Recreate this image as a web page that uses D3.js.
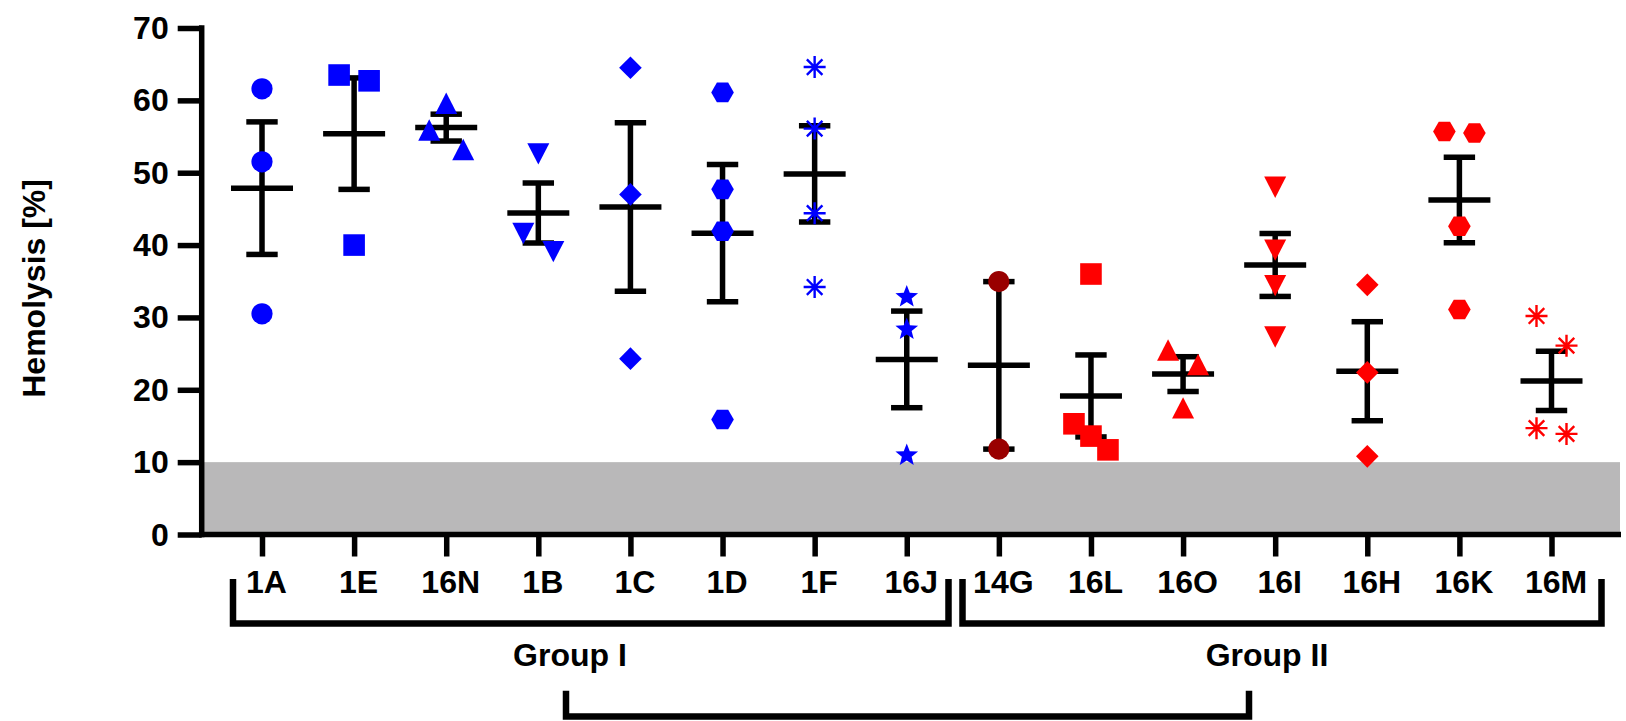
<!DOCTYPE html>
<html><head><meta charset="utf-8">
<script src="https://cdn.jsdelivr.net/npm/d3@7"></script>
<style>
body{margin:0;background:#fff}
svg text{font-family:"Liberation Sans",Arial,Helvetica,sans-serif;font-weight:bold;fill:#000}
</style>
</head><body>
<svg id="chart" width="1626" height="721"></svg>
<script>
// ---------- data ----------
const categories = ["1A","1E","16N","1B","1C","1D","1F","16J","14G","16L","16O","16I","16H","16K","16M"];
const groupNames = ["Group I","Group II"];
const groupOfCategory = [0,0,0,0,0,0,0,0,1,1,1,1,1,1,1];
const hemolysis = [
  [61.6, 51.5, 30.5],
  [63.5, 62.7, 40.0],
  [59.6, 55.9, 53.2],
  [52.6, 41.6, 39.1],
  [64.5, 47.0, 24.3],
  [61.1, 47.7, 41.9, 15.9],
  [64.6, 56.1, 44.4, 34.2],
  [33.0, 28.5, 11.1],
  [34.95, 11.8],
  [36.0, 15.3, 13.6, 11.7],
  [25.5, 23.5, 17.5],
  [48.0, 39.3, 34.4, 27.3],
  [34.5, 22.4, 10.8],
  [55.7, 55.5, 42.6, 31.1],
  [30.2, 26.1, 14.7, 13.9]
];
const yTicks = [0, 10, 20, 30, 40, 50, 60, 70];
const thresholdBand = [0, 10];
const yTitle = "Hemolysis [%]";

// ---------- styles ----------
const shapeCycle = ["circle","square","triangleUp","triangleDown","diamond","hexagon","asterisk","star"];
const groupColor = ["#0000ff", "#ff0000"];
const firstOfGroupIIColor = "#990000";
const FONT = 32;
const LW = 5.5;

// ---------- scales ----------
const svg = d3.select("#chart");
const x = d3.scalePoint().domain(categories).range([262, 1551.5]);
const y = d3.scaleLinear().domain([0, 70]).range([534.5, 28]);
const axisX = 201.7, axisRight = 1621;

// gray threshold band
svg.append("rect")
  .attr("x", axisX).attr("width", 1620 - axisX)
  .attr("y", y(thresholdBand[1])).attr("height", y(thresholdBand[0]) - y(thresholdBand[1]))
  .attr("fill", "#b9b8b9");

// y axis
const gy = svg.append("g").attr("transform", `translate(${axisX},0)`)
  .call(d3.axisLeft(y).tickValues(yTicks).tickSizeInner(24).tickSizeOuter(0).tickPadding(8).tickFormat(d3.format("d")));
gy.select(".domain").remove();
gy.selectAll(".tick line").attr("stroke", "#000").attr("stroke-width", LW);
gy.selectAll(".tick text").attr("font-size", FONT).attr("dy", "0.33em").attr("x", -33);
svg.append("line").attr("x1", axisX).attr("x2", axisX)
  .attr("y1", y(70) - LW / 2).attr("y2", y(0) + LW / 2)
  .attr("stroke", "#000").attr("stroke-width", LW);

// x axis
const gx = svg.append("g").attr("transform", `translate(0,${y(0)})`)
  .call(d3.axisBottom(x).tickSizeInner(22).tickSizeOuter(0));
gx.select(".domain").remove();
gx.selectAll(".tick line").attr("stroke", "#000").attr("stroke-width", LW);
gx.selectAll(".tick text").attr("font-size", FONT).attr("y", 58).attr("dy", 0).attr("dx", 4);
svg.append("line").attr("x1", axisX - LW / 2).attr("x2", axisRight)
  .attr("y1", y(0)).attr("y2", y(0))
  .attr("stroke", "#000").attr("stroke-width", LW);

// y title
svg.append("text")
  .attr("transform", `translate(44.6,288.4) rotate(-90)`)
  .attr("text-anchor", "middle").attr("font-size", FONT)
  .text(yTitle);

// ---------- group brackets ----------
const groupIdx = groupNames.map((g, gi) => categories.filter((c, i) => groupOfCategory[i] === gi));
const boundary = (x(groupIdx[0][groupIdx[0].length - 1]) + x(groupIdx[1][0])) / 2;
const brackets = [
  [x(groupIdx[0][0]) - 29, boundary - 4.3],
  [boundary + 9.7, x(groupIdx[1][groupIdx[1].length - 1]) + 50]
];
const bw = 6.5;
brackets.forEach(([l, r]) => {
  svg.append("path")
    .attr("d", `M${l},579V623.5H${r}V579`)
    .attr("fill", "none").attr("stroke", "#000").attr("stroke-width", bw).attr("stroke-linejoin", "miter");
});
const groupLabelX = [570, 1267];
groupNames.forEach((g, gi) => {
  svg.append("text").attr("x", groupLabelX[gi]).attr("y", 665.7)
    .attr("text-anchor", "middle").attr("font-size", FONT).text(g);
});
svg.append("path")
  .attr("d", `M${groupLabelX[0] - 4},690.7V716.5H${groupLabelX[1] - 18}V690.7`)
  .attr("fill", "none").attr("stroke", "#000").attr("stroke-width", bw);

// ---------- error bars (mean ± SEM) ----------
const stats = hemolysis.map(v => {
  const m = d3.mean(v);
  const sem = d3.deviation(v) / Math.sqrt(v.length);
  return {m, sem};
});
const eb = svg.append("g").attr("stroke", "#000").attr("stroke-width", LW).attr("fill", "none");
categories.forEach((c, i) => {
  const cx = x(c), s = stats[i];
  eb.append("line").attr("x1", cx).attr("x2", cx).attr("y1", y(s.m + s.sem)).attr("y2", y(s.m - s.sem));
  eb.append("line").attr("x1", cx - 31).attr("x2", cx + 31).attr("y1", y(s.m)).attr("y2", y(s.m));
  [s.m + s.sem, s.m - s.sem].forEach(v =>
    eb.append("line").attr("x1", cx - 15.7).attr("x2", cx + 15.7).attr("y1", y(v)).attr("y2", y(v)));
});

// ---------- markers ----------
function poly(pts){ return "M" + pts.map(p => p[0].toFixed(2) + "," + p[1].toFixed(2)).join("L") + "Z"; }
function markerPath(shape){
  switch(shape){
    case "circle": return d3.symbol(d3.symbolCircle, Math.PI * 10.6 * 10.6)();
    case "square": return poly([[-10.8,-10.8],[10.8,-10.8],[10.8,10.8],[-10.8,10.8]]);
    case "triangleUp": return poly([[0,-10.7],[11,10.7],[-11,10.7]]);
    case "triangleDown": return poly([[0,10.7],[11,-10.7],[-11,-10.7]]);
    case "diamond": return poly([[0,-11.3],[11.3,0],[0,11.3],[-11.3,0]]);
    case "hexagon": { const r = 11.3; return poly(d3.range(6).map(k => [r*Math.cos(k*Math.PI/3), r*Math.sin(k*Math.PI/3)])); }
    case "star": {
      const R = 11.9, ri = R * 0.43, off = 1.1, pts = [];
      for (let k = 0; k < 10; k++) {
        const a = -Math.PI/2 + k * Math.PI/5, rr = k % 2 ? ri : R;
        pts.push([rr*Math.cos(a), rr*Math.sin(a) + off]);
      }
      return poly(pts);
    }
    case "asterisk": {
      const r = 11; let d = "";
      for (let k = 0; k < 4; k++) {
        const a = k * Math.PI / 4, dx = r*Math.cos(a), dy = r*Math.sin(a);
        d += `M${(-dx).toFixed(2)},${(-dy).toFixed(2)}L${dx.toFixed(2)},${dy.toFixed(2)}`;
      }
      return d;
    }
  }
}
// spread points that would overlap vertically (column scatter layout)
function layoutPoints(vals){
  const pts = vals.map(v => ({v})).sort((a, b) => b.v - a.v);
  const clusters = []; let cur = [pts[0]];
  for (let i = 1; i < pts.length; i++) {
    if (y(pts[i].v) - y(pts[i-1].v) < 31) cur.push(pts[i]);
    else { clusters.push(cur); cur = [pts[i]]; }
  }
  clusters.push(cur);
  const spread = {1:[0], 2:[-15,15], 3:[-17,0,17], 4:[-24,-8,8,24]};
  clusters.forEach(cl => {
    let order = cl.slice();
    // a tight triple whose top gap is widest keeps the top point in the middle
    if (cl.length === 3 && (cl[0].v - cl[1].v) > (cl[1].v - cl[2].v)) order = [cl[1], cl[0], cl[2]];
    order.forEach((p, k) => p.dx = spread[cl.length][k]);
  });
  return pts;
}
const mk = svg.append("g");
categories.forEach((c, i) => {
  const gi = groupOfCategory[i];
  const within = categories.slice(0, i).filter((cc, j) => groupOfCategory[j] === gi).length;
  const shape = shapeCycle[within % shapeCycle.length];
  const color = (gi === 1 && within === 0) ? firstOfGroupIIColor : groupColor[gi];
  const d = markerPath(shape);
  layoutPoints(hemolysis[i]).forEach(p => {
    const el = mk.append("path").attr("d", d)
      .attr("transform", `translate(${x(c) + p.dx},${y(p.v)})`);
    if (shape === "asterisk") el.attr("fill", "none").attr("stroke", color).attr("stroke-width", 2.4);
    else el.attr("fill", color);
  });
});
</script>
</body></html>
